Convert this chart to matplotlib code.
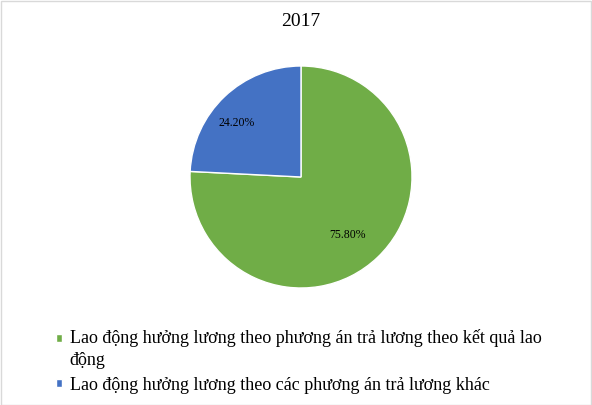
import matplotlib.pyplot as plt
from matplotlib.patches import Rectangle
from matplotlib.legend_handler import HandlerPatch

plt.rcParams['font.family'] = ['Liberation Serif', 'DejaVu Serif']

title = '2017'
labels = ['Lao động hưởng lương theo phương án trả lương theo kết quả lao\nđộng',
          'Lao động hưởng lương theo các phương án trả lương khác']
values = [75.80, 24.20]
colors = ['#70AD47', '#4472C4']

W, H = 592, 405
fig = plt.figure(figsize=(W / 100, H / 100), dpi=100)

# khung viền
fig.patches.append(Rectangle((0.001, 0.001), 0.997, 0.996, transform=fig.transFigure,
                             fill=False, edgecolor='#D9D9D9', lw=1))

cx, cy, r = 301, 177, 111
ax = fig.add_axes([(cx - r) / W, 1 - (cy + r) / H, 2 * r / W, 2 * r / H])
wedges, _, autotexts = ax.pie(values, colors=colors, startangle=90, counterclock=False,
                              autopct='%.2f%%', pctdistance=0.72,
                              wedgeprops=dict(edgecolor='white', linewidth=1),
                              textprops=dict(fontsize=8.5, color='black'))
ax.set_aspect('equal')
ax.set_xlim(-1, 1)
ax.set_ylim(-1, 1)
# vị trí nhãn kiểu "best fit" của Excel
autotexts[0].set_position((0.42, -0.52))
autotexts[1].set_position((-0.58, 0.49))

fig.text(cx / W, 1 - 22 / H, title, ha='center', va='center', fontsize=14)


def top_square(legend, orig_handle, xdescent, ydescent, width, height, fontsize):
    # ô màu canh theo dòng đầu của nhãn hai dòng
    return Rectangle((-xdescent, -ydescent + 7.8), width, height)


leg = fig.legend(wedges, labels, loc='upper left', bbox_to_anchor=(56 / W, 1 - 329 / H),
                 frameon=False, fontsize=13, handlelength=0.35, handleheight=0.35,
                 handletextpad=0.4, labelspacing=0.45, borderpad=0, borderaxespad=0,
                 handler_map={wedges[0]: HandlerPatch(patch_func=top_square)})
for t in leg.get_texts():
    t.set_linespacing(1.35)

fig.savefig('out.png', dpi=100)
